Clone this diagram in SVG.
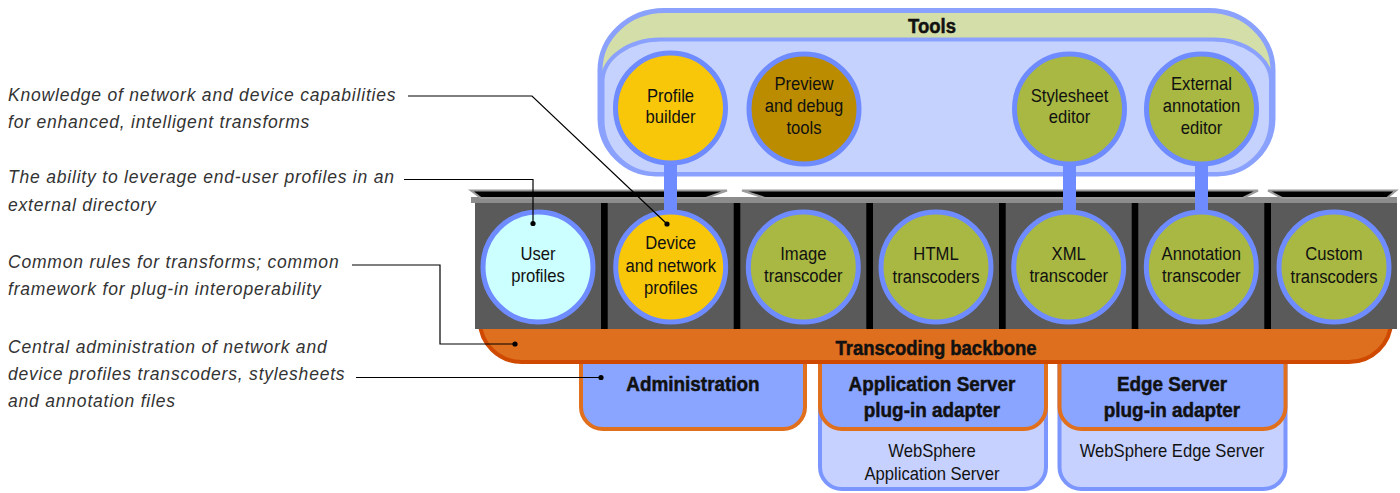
<svg xmlns="http://www.w3.org/2000/svg" width="1400" height="493" viewBox="0 0 1400 493">
<style>
.lbl{font-family:"Liberation Sans",Arial,sans-serif;font-size:18.5px;fill:#111;text-anchor:middle}
.b{font-weight:bold;font-size:21px;stroke:#111;stroke-width:0.5px}
.note{font-family:"Liberation Sans",Arial,sans-serif;font-style:italic;font-size:17.5px;letter-spacing:0.8px;fill:#333}
.lead{fill:none;stroke:#000;stroke-width:1.2}
.dot{fill:#000}
.mod{fill:#5a5a5a}
.ring{stroke:#6e8bff;stroke-width:5}
.stem{fill:#6e8bff}
.lid{fill:#000;stroke:#9a9a9a;stroke-width:2}
.adm{fill:#8aa5ff;stroke:#e0701e;stroke-width:4}
.srv{fill:#c6d1ff;stroke:#7c96ff;stroke-width:4}
.yel{fill:#f8c70a}
.olv{fill:#a8b842}
</style>
<rect width="1400" height="493" fill="#fff"/>

<g id="notes">
<text class="note" x="8" y="101">Knowledge of network and device capabilities</text>
<text class="note" x="8" y="128">for enhanced, intelligent transforms</text>
<text class="note" x="8" y="183">The ability to leverage end-user profiles in an</text>
<text class="note" x="8" y="211">external directory</text>
<text class="note" x="8" y="268">Common rules for transforms; common</text>
<text class="note" x="8" y="295">framework for plug-in interoperability</text>
<text class="note" x="8" y="353">Central administration of network and</text>
<text class="note" x="8" y="380">device profiles transcoders, stylesheets</text>
<text class="note" x="8" y="407">and annotation files</text>
</g>

<g id="administration">
<rect class="adm" x="581" y="330" width="224" height="99" rx="22"/>
<text class="lbl b" transform="translate(693 391) scale(0.9 1)">Administration</text>
</g>
<g id="app-server">
<rect class="srv" x="820" y="330" width="226" height="159" rx="22"/>
<rect class="adm" x="820" y="330" width="226" height="99" rx="22"/>
<text class="lbl b" transform="translate(932 391) scale(0.9 1)">Application Server</text>
<text class="lbl b" transform="translate(932 417) scale(0.9 1)">plug-in adapter</text>
<text class="lbl" transform="translate(932 457) scale(0.9 1)">WebSphere</text>
<text class="lbl" transform="translate(932 480) scale(0.9 1)">Application Server</text>
</g>
<g id="edge-server">
<rect class="srv" x="1059.5" y="330" width="226" height="159" rx="22"/>
<rect class="adm" x="1059.5" y="330" width="226" height="99" rx="22"/>
<text class="lbl b" transform="translate(1172 391) scale(0.9 1)">Edge Server</text>
<text class="lbl b" transform="translate(1172 417) scale(0.9 1)">plug-in adapter</text>
<text class="lbl" transform="translate(1172 457) scale(0.9 1)">WebSphere Edge Server</text>
</g>

<g id="backbone">
<rect x="480" y="280" width="911" height="82" rx="42" fill="#dd6f1f" stroke="#cf4a00" stroke-width="4"/>
<text class="lbl b" transform="translate(936 355) scale(0.9 1)" style="font-size:20.5px">Transcoding backbone</text>
</g>

<g id="strip">
<rect x="471" y="197" width="926" height="6" fill="#8c8c8c"/>
<polygon class="lid" points="471,190.5 727,190.5 706,198 481,198"/>
<polygon class="lid" points="742,190.5 1258,190.5 1243,198 765,198"/>
<polygon class="lid" points="1268,190.5 1396,190.5 1387,198 1282,198"/>
<rect x="475" y="203" width="922" height="126" fill="#000"/>
<rect class="mod" x="475" y="203" width="126" height="126"/>
<rect class="mod" x="607.7" y="203" width="126" height="126"/>
<rect class="mod" x="740.3" y="203" width="126" height="126"/>
<rect class="mod" x="873" y="203" width="126" height="126"/>
<rect class="mod" x="1005.7" y="203" width="126" height="126"/>
<rect class="mod" x="1138.3" y="203" width="126" height="126"/>
<rect class="mod" x="1271" y="203" width="126" height="126"/>
</g>

<g id="tools">
<path d="M664,10.5 H1209 A64 60 0 0 1 1273 70.5 V118 A56 56 0 0 1 1217 174 H656 A56 56 0 0 1 600 118 V70.5 A64 60 0 0 1 664 10.5 Z" fill="#d4dea8" stroke="#8aa1fd" stroke-width="5"/>
<path d="M660.5,39.5 H1213 A58 42 0 0 1 1271 81.5 V120 A54 54 0 0 1 1217 174 H656.5 A54 54 0 0 1 602.5 120 V81.5 A58 42 0 0 1 660.5 39.5 Z" fill="#c6d2fe" stroke="#8aa1fd" stroke-width="4"/>
<text class="lbl b" transform="translate(932 33) scale(0.88 1)">Tools</text>
</g>

<g id="connectors">
<rect class="stem" x="664" y="160" width="13" height="54"/>
<rect class="stem" x="1063" y="160" width="13" height="54"/>
<rect class="stem" x="1195" y="160" width="13" height="54"/>
</g>

<g id="profile-builder">
<circle class="ring yel" cx="670.5" cy="108" r="55"/>
<text class="lbl" transform="translate(670.5 102) scale(0.9 1)">Profile</text>
<text class="lbl" transform="translate(670.5 123) scale(0.9 1)">builder</text>
</g>
<g id="preview-debug">
<circle class="ring" fill="#bb8c00" cx="804" cy="109" r="55"/>
<text class="lbl" transform="translate(804 90) scale(0.9 1)">Preview</text>
<text class="lbl" transform="translate(804 112) scale(0.9 1)">and debug</text>
<text class="lbl" transform="translate(804 134) scale(0.9 1)">tools</text>
</g>
<g id="stylesheet-editor">
<circle class="ring olv" cx="1069.5" cy="109" r="55"/>
<text class="lbl" transform="translate(1069.5 102) scale(0.9 1)">Stylesheet</text>
<text class="lbl" transform="translate(1069.5 123) scale(0.9 1)">editor</text>
</g>
<g id="external-annotation-editor">
<circle class="ring olv" cx="1201.5" cy="109" r="55"/>
<text class="lbl" transform="translate(1201.5 90) scale(0.9 1)">External</text>
<text class="lbl" transform="translate(1201.5 112) scale(0.9 1)">annotation</text>
<text class="lbl" transform="translate(1201.5 134) scale(0.9 1)">editor</text>
</g>

<g id="user-profiles">
<circle class="ring" fill="#ccffff" cx="538" cy="267" r="55"/>
<text class="lbl" transform="translate(538 260) scale(0.9 1)">User</text>
<text class="lbl" transform="translate(538 282) scale(0.9 1)">profiles</text>
</g>
<g id="device-network-profiles">
<circle class="ring yel" cx="670.7" cy="267" r="55"/>
<text class="lbl" transform="translate(670.7 249) scale(0.9 1)">Device</text>
<text class="lbl" transform="translate(670.7 272) scale(0.9 1)">and network</text>
<text class="lbl" transform="translate(670.7 294) scale(0.9 1)">profiles</text>
</g>
<g id="image-transcoder">
<circle class="ring olv" cx="803.3" cy="267" r="55"/>
<text class="lbl" transform="translate(803.3 260) scale(0.9 1)">Image</text>
<text class="lbl" transform="translate(803.3 282) scale(0.9 1)">transcoder</text>
</g>
<g id="html-transcoders">
<circle class="ring olv" cx="936" cy="267" r="55"/>
<text class="lbl" transform="translate(936 260) scale(0.9 1)">HTML</text>
<text class="lbl" transform="translate(936 283) scale(0.9 1)">transcoders</text>
</g>
<g id="xml-transcoder">
<circle class="ring olv" cx="1068.7" cy="267" r="55"/>
<text class="lbl" transform="translate(1068.7 260) scale(0.9 1)">XML</text>
<text class="lbl" transform="translate(1068.7 282) scale(0.9 1)">transcoder</text>
</g>
<g id="annotation-transcoder">
<circle class="ring olv" cx="1201.3" cy="267" r="55"/>
<text class="lbl" transform="translate(1201.3 260) scale(0.9 1)">Annotation</text>
<text class="lbl" transform="translate(1201.3 282) scale(0.9 1)">transcoder</text>
</g>
<g id="custom-transcoders">
<circle class="ring olv" cx="1334" cy="267" r="55"/>
<text class="lbl" transform="translate(1334 260) scale(0.9 1)">Custom</text>
<text class="lbl" transform="translate(1334 283) scale(0.9 1)">transcoders</text>
</g>

<g id="leaders">
<polyline class="lead" points="408,96 532,96 667,224"/>
<circle class="dot" cx="667" cy="224" r="2.6"/>
<polyline class="lead" points="404,179.5 533,179.5 533,223.5"/>
<circle class="dot" cx="533" cy="223.5" r="2.6"/>
<polyline class="lead" points="352,265 440,265 440,344 515,344"/>
<circle class="dot" cx="515" cy="344" r="2.6"/>
<polyline class="lead" points="356,377.5 601,377.5"/>
<circle class="dot" cx="601" cy="377.5" r="2.6"/>
</g>
</svg>
